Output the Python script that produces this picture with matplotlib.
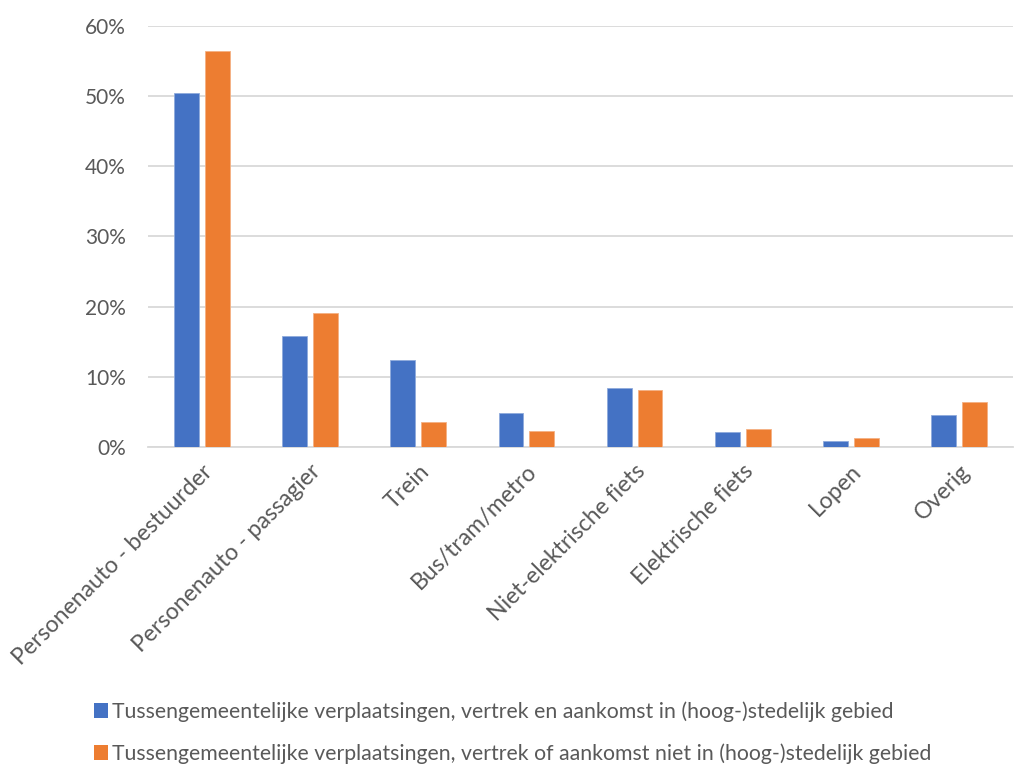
import matplotlib.pyplot as plt
import numpy as np
from matplotlib.patches import Patch
from matplotlib.ticker import PercentFormatter

categories = ["Personenauto - bestuurder", "Personenauto - passagier", "Trein",
              "Bus/tram/metro", "Niet-elektrische fiets", "Elektrische fiets",
              "Lopen", "Overig"]
stedelijk = [50.4, 15.8, 12.4, 4.9, 8.4, 2.1, 0.9, 4.6]
niet_stedelijk = [56.4, 19.1, 3.5, 2.3, 8.1, 2.6, 1.3, 6.4]
series_names = ["Tussengemeentelijke verplaatsingen, vertrek en aankomst in (hoog-)stedelijk gebied",
                "Tussengemeentelijke verplaatsingen, vertrek of aankomst niet in (hoog-)stedelijk gebied"]

blue = "#4472C4"
orange = "#ED7D31"
textc = "#595959"
gridc = "#d9d9d9"

plt.rcParams['font.family'] = ['Lato', 'DejaVu Sans']

fig = plt.figure(figsize=(10.14, 7.64), dpi=100)
ax = fig.add_axes([0.146, 0.415, 0.853, 0.551])

x = np.arange(len(categories))
w = 0.23
ax.bar(x - 0.143, stedelijk, w, color=blue, edgecolor="#8faadc", linewidth=0.6, zorder=3)
ax.bar(x + 0.143, niet_stedelijk, w, color=orange, edgecolor="#f4b183", linewidth=0.6, zorder=3)

ax.set_xlim(-0.5, len(categories) - 0.5)
ax.set_ylim(0, 60)
ax.set_yticks(np.arange(0, 61, 10))
ax.yaxis.set_major_formatter(PercentFormatter(decimals=0))
ax.grid(axis='y', color=gridc, linewidth=1.3, zorder=0)
for s in ["top", "right", "left"]:
    ax.spines[s].set_visible(False)
ax.spines["bottom"].set_color(gridc)
ax.spines["bottom"].set_linewidth(1.3)
ax.tick_params(axis='both', length=0, labelsize=15, colors=textc, pad=10)
ax.tick_params(axis='y', pad=16)
ax.set_xticks(x)
ax.set_xticklabels(categories, rotation=45, ha='right', va='top', rotation_mode='anchor')
for lbl in ax.get_xticklabels():
    lbl.set_fontsize(16.6)
    lbl.set_color(textc)

handles = [Patch(facecolor=blue), Patch(facecolor=orange)]
fig.legend(handles, series_names, loc='center left', bbox_to_anchor=(0.074, 0.041),
           frameon=False, fontsize=15.3, labelcolor=textc, handlelength=0.65,
           handleheight=0.65, handletextpad=0.2, labelspacing=1.0)

fig.savefig("out.png", dpi=100)
